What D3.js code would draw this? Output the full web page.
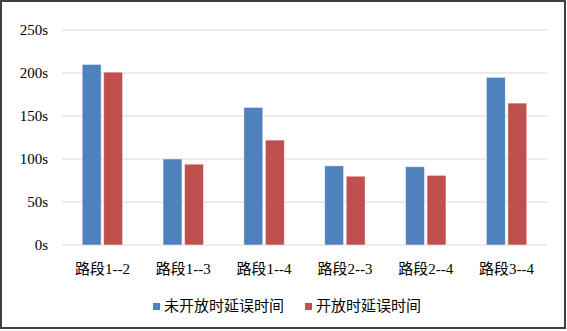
<!DOCTYPE html>
<html>
<head>
<meta charset="utf-8">
<script src="https://cdn.jsdelivr.net/npm/d3@7"></script>
<style>
  body { margin: 0; background: #fff; }
  text { font-family: "Liberation Serif", "Noto Sans CJK SC", serif; }
</style>
</head>
<body>
<div id="chart"></div>
<script>
const categories = ["路段1--2", "路段1--3", "路段1--4", "路段2--3", "路段2--4", "路段3--4"];
const seriesNames = ["未开放时延误时间", "开放时延误时间"];
const closedDelay = [210, 100, 160, 92, 91, 195];
const openDelay = [201, 94, 122, 80, 81, 165];
const yTicks = [0, 50, 100, 150, 200, 250];
const colors = ["#4F81BD", "#C0504D"];

const W = 567, H = 331;
const margin = { top: 30, right: 20, bottom: 86, left: 62 };
const width = W - margin.left - margin.right;
const height = H - margin.top - margin.bottom;

const svg = d3.select("#chart").append("svg")
    .attr("width", W)
    .attr("height", H);

// outer frame
svg.append("rect")
    .attr("x", 1).attr("y", 1)
    .attr("width", W - 3).attr("height", H - 4)
    .attr("fill", "#fff")
    .attr("stroke", "#404040")
    .attr("stroke-width", 2);

const g = svg.append("g")
    .attr("transform", `translate(${margin.left},${margin.top})`);

const x0 = d3.scaleBand().domain(categories).range([0, width]).paddingInner(0.5).paddingOuter(0.25);
const x1 = d3.scaleBand().domain(seriesNames).range([0, x0.bandwidth()]).paddingInner(0.12);
const y = d3.scaleLinear().domain([0, 250]).range([height, 0]);

// gridlines
g.selectAll(".grid")
    .data(yTicks)
    .join("line")
    .attr("x1", 0).attr("x2", width)
    .attr("y1", d => y(d)).attr("y2", d => y(d))
    .attr("stroke", "#d9d9d9")
    .attr("stroke-width", 1.2);

// y axis labels
const yAxis = g.append("g")
    .call(d3.axisLeft(y).tickValues(yTicks).tickSize(0).tickPadding(14).tickFormat(d => d + "s"));
yAxis.select(".domain").remove();
yAxis.selectAll("text")
    .style("font-family", "'Liberation Serif', serif")
    .style("font-size", "15px")
    .attr("fill", "#000");

// bars
const rows = categories.map((c, i) => ({ cat: c, vals: [closedDelay[i], openDelay[i]] }));
g.selectAll(".grp")
    .data(rows)
    .join("g")
    .attr("transform", d => `translate(${x0(d.cat)},0)`)
    .selectAll("rect")
    .data(d => d.vals.map((v, j) => ({ name: seriesNames[j], v, j })))
    .join("rect")
    .attr("x", d => x1(d.name))
    .attr("y", d => y(d.v))
    .attr("width", x1.bandwidth())
    .attr("height", d => y(0) - y(d.v))
    .attr("fill", d => colors[d.j])
    .attr("stroke", "#fff")
    .attr("stroke-opacity", 0.6)
    .attr("stroke-width", 0.8);

// x axis labels
const xAxis = g.append("g")
    .attr("transform", `translate(0,${height})`)
    .call(d3.axisBottom(x0).tickSize(0).tickPadding(18));
xAxis.select(".domain").remove();
xAxis.selectAll("text")
    .style("font-family", "'Liberation Serif', 'Noto Sans CJK SC', serif")
    .style("font-size", "15px")
    .attr("fill", "#000");

// legend
const legend = svg.append("g").attr("transform", "translate(153,303)");
const legendX = [0, 152];
seriesNames.forEach((name, i) => {
    const lg = legend.append("g").attr("transform", `translate(${legendX[i]},0)`);
    lg.append("rect")
        .attr("width", 7).attr("height", 7)
        .attr("fill", colors[i]);
    lg.append("text")
        .attr("x", 11).attr("y", 8)
        .style("font-family", "'Noto Sans CJK SC', sans-serif")
        .style("font-size", "15px")
        .attr("fill", "#000")
        .text(name);
});
</script>
</body>
</html>
